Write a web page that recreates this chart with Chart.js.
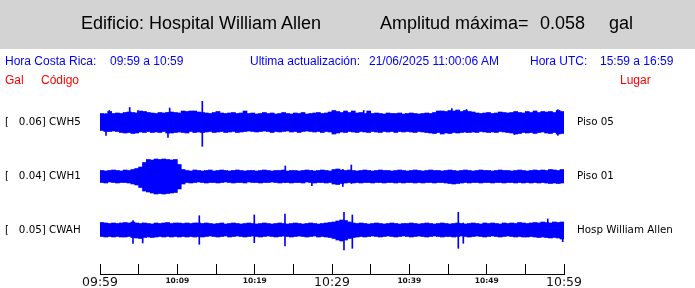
<!DOCTYPE html>
<html>
<head>
<meta charset="utf-8">
<script src="https://cdn.jsdelivr.net/npm/chart.js@4.4.0/dist/chart.umd.min.js"></script>
<style>
  body { margin: 0; background: #fff; }
  #page { position: relative; width: 695px; height: 288px; overflow: hidden; }
  #band { position: absolute; left: 0; top: 0; width: 695px; height: 49px; background: #d3d3d3; }
  #chart { position: absolute; left: 0; top: 0; }
  .t { position: absolute; white-space: pre; font-family: "Liberation Sans", Arial, sans-serif; }
  .big { font-size: 18px; line-height: 18px; top: 14px; color: #000; }
  .blue { font-size: 12px; line-height: 12px; top: 55px; color: #0000ff; }
  .red { font-size: 12px; line-height: 12px; top: 74px; color: #ff0000; }
</style>
</head>
<body>
<div id="page">
  <div id="band"></div>
  <canvas id="chart" width="695" height="288"></canvas>
  <div class="t big" style="left:81px">Edificio: Hospital William Allen</div>
  <div class="t big" style="left:380px">Amplitud máxima=</div>
  <div class="t big" style="left:540px">0.058</div>
  <div class="t big" style="left:609px">gal</div>
  <div class="t blue" style="left:5px">Hora Costa Rica:</div>
  <div class="t blue" style="left:110px">09:59 a 10:59</div>
  <div class="t blue" style="left:250px">Ultima actualización:</div>
  <div class="t blue" style="left:369px">21/06/2025 11:00:06 AM</div>
  <div class="t blue" style="left:530px">Hora UTC:</div>
  <div class="t blue" style="left:600px">15:59 a 16:59</div>
  <div class="t red" style="left:5px">Gal</div>
  <div class="t red" style="left:41px">Código</div>
  <div class="t red" style="left:620px">Lugar</div>
</div>
<script>
// minutes after 09:59, labels every 10 min
const timeLabels = ["09:59", "10:09", "10:19", "10:29", "10:39", "10:49", "10:59"];

const stationCodes = ["[   0.06] CWH5", "[   0.04] CWH1", "[   0.05] CWAH"];
const stationPlaces = ["Piso 05", "Piso 01", "Hosp William Allen"];

// envelope of each trace, one value per 30 s (above / below its baseline)
const cwh5Top = [
  9, 8.5, 11, 9, 9.5, 9, 10, 10.5, 10, 9.5,
  11.5, 11, 10, 9.5, 9, 10, 9.5, 10, 10.5, 10,
  9.5, 11.5, 11, 11.5, 11.5, 10.5, 10, 9.5, 9, 10,
  11, 9.5, 9, 9.5, 10, 9, 9.5, 11.5, 9, 9.5,
  8.5, 9, 10, 9, 9.5, 8.5, 9, 10, 9, 8.5,
  9.5, 9, 10, 8.5, 9, 9.5, 10, 9, 9.5, 10.5,
  12, 11, 10, 11.5, 10, 11.5, 9.5, 10, 9, 11.5,
  9, 9.5, 9, 8.5, 9.5, 9, 9, 9.5, 8.5, 9,
  9.5, 9, 8.5, 9, 9.5, 9, 10, 11.5, 11.5, 11,
  12, 11.5, 12.5, 11, 12, 11, 10.5, 9.5, 9, 9.5,
  10, 9, 9.5, 10.5, 10, 9.5, 10, 11, 10, 9.5,
  11, 10, 11.5, 10, 11, 10.5, 11, 10, 12, 11
];
const cwh5Bottom = [
  8, 9, 9, 8.5, 9, 10, 10.5, 10, 11, 10.5,
  9.5, 10, 9, 10, 9.5, 10, 9, 10.5, 10.5, 10,
  9.5, 10, 10.5, 9, 10, 9.5, 10, 9.5, 9, 10,
  9.5, 9, 10, 9.5, 9, 10, 9.5, 9, 8.5, 9,
  9.5, 9, 8.5, 9, 10, 9, 9.5, 9, 8.5, 9.5,
  9, 10, 9, 8.5, 9, 9.5, 9, 10, 9, 9.5,
  11.5, 10.5, 9.5, 10, 9, 9.5, 10, 9, 9.5, 10,
  9, 9.5, 10, 9, 9.5, 9, 10, 9, 9.5, 9,
  9.5, 10, 9, 9.5, 10, 10.5, 11, 10, 11.5, 10.5,
  11, 10, 10.5, 10, 9.5, 10, 9.5, 10, 9, 9.5,
  10, 9.5, 10, 9, 9.5, 10, 10.5, 11.5, 11, 10,
  10.5, 10, 11, 10, 9.5, 10.5, 11, 10, 11.5, 11
];
const cwh1Top = [
  6, 5.5, 6, 6.5, 6, 5.5, 6.5, 6, 7, 8,
  9.5, 14, 17, 16.5, 17.5, 17, 17.5, 17, 16.5, 17,
  12, 7, 6, 5.5, 6.5, 6, 5.5, 6, 6.5, 5.5,
  6, 6.5, 6, 5.5, 6, 6.5, 6, 5.5, 6, 6,
  5.5, 6, 6.5, 6, 5.5, 6, 6, 6.5, 5.5, 6,
  6, 5.5, 6, 6.5, 6, 5.5, 6, 6.5, 6, 5.5,
  7, 7.5, 6.5, 6, 6.5, 6, 5.5, 6, 6.5, 6,
  5.5, 6, 6.5, 6, 6, 5.5, 6, 6.5, 6, 5.5,
  6, 6.5, 6, 5.5, 6, 6.5, 6, 6, 5.5, 6,
  6.5, 6, 5.5, 6, 6.5, 6, 5.5, 6, 6.5, 6,
  6, 5.5, 6, 6.5, 6, 6, 5.5, 6, 6.5, 6,
  5.5, 6, 6.5, 6, 6.5, 6, 7, 6.5, 6, 7
];
const cwh1Bottom = [
  6, 6.5, 5.5, 6, 6.5, 6, 6, 6.5, 7.5, 8.5,
  11, 14.5, 15.5, 16.5, 17.5, 17, 17.5, 17, 16.5, 16,
  12.5, 7.5, 6, 6.5, 6, 5.5, 6, 6.5, 6, 6,
  6.5, 6, 5.5, 6, 6.5, 6, 6, 6.5, 5.5, 6,
  6, 6.5, 6, 6, 5.5, 6, 6.5, 6, 6, 6.5,
  6, 6, 6.5, 5.5, 6, 6.5, 6, 6, 6.5, 6,
  7.5, 8, 7, 6.5, 6, 6.5, 6, 6.5, 6, 6,
  6.5, 6, 6, 6.5, 6, 6, 6.5, 6, 6.5, 6,
  6, 6.5, 6, 6.5, 6, 6, 6.5, 6, 6, 6.5,
  7, 7.5, 7, 6.5, 6, 6.5, 6, 6, 6.5, 6,
  6, 6.5, 6, 6, 6.5, 6, 6, 6.5, 6, 6.5,
  6, 6.5, 6, 6.5, 6, 6.5, 7, 6.5, 7, 6.5
];
const cwahTop = [
  7.5, 7, 6.5, 7, 6.5, 7, 7.5, 7, 8, 7,
  6.5, 7, 6.5, 6, 7, 6.5, 7, 7.5, 6.5, 7,
  7, 6.5, 7, 6.5, 7, 7, 6.5, 7, 6.5, 6,
  6.5, 7, 6, 6.5, 7, 6.5, 6, 6.5, 7, 6.5,
  6, 6.5, 7, 6.5, 6, 6.5, 7, 6.5, 6, 6.5,
  7, 6.5, 6, 6.5, 7, 6.5, 6, 6.5, 7, 7.5,
  8, 9, 10, 9.5, 8, 7, 6.5, 7, 6.5, 6,
  6.5, 7, 6.5, 6, 6.5, 7, 6.5, 6, 6.5, 6.5,
  7, 6.5, 6, 6.5, 7, 6.5, 6, 6.5, 7, 6.5,
  6, 6.5, 7, 6.5, 6, 6.5, 7, 6.5, 6, 7,
  6.5, 7, 6.5, 6, 7, 6.5, 7, 6.5, 7.5, 7,
  6.5, 7, 7.5, 7, 8, 7.5, 7, 8, 7.5, 8
];
const cwahBottom = [
  6.5, 7, 6.5, 7, 6.5, 7, 7, 6.5, 7.5, 8,
  8.5, 7.5, 7, 7.5, 7, 6.5, 7, 6.5, 7, 6.5,
  7, 6.5, 7, 6.5, 7, 6.5, 7, 6.5, 6, 6.5,
  7, 6.5, 6, 7, 6.5, 6, 6.5, 7, 6.5, 6,
  6.5, 7, 6.5, 6, 6.5, 7, 6.5, 6, 6.5, 7,
  6.5, 6, 6.5, 7, 6.5, 6, 7, 6.5, 7, 7.5,
  8.5, 10, 11, 10, 8.5, 7.5, 7, 6.5, 7, 6.5,
  6, 6.5, 7, 6.5, 6, 6.5, 7, 6.5, 6, 6.5,
  7, 6.5, 6, 6.5, 7, 6.5, 6, 6.5, 7, 6.5,
  6.5, 7, 6.5, 6, 6.5, 7, 6.5, 6, 6.5, 7,
  6.5, 6, 6.5, 7, 6.5, 6, 6.5, 7, 6.5, 7,
  7, 6.5, 7, 7.5, 7, 7.5, 8, 7.5, 8, 9
];

// single peaks: [minute, up, down]
const cwh5Peaks = [
  [13.23, 21.2, 23.8], [0.78, 9, 12.8], [3.84, 15, 9], [9.01, 14.5, 10],
  [8.79, 10, 14.8], [1.2, 12, 8], [4.9, 12, 9], [34.1, 12, 9],
  [45.5, 14, 10], [47.4, 13, 10], [59.2, 12.8, 12.8], [53.6, 10, 12]
];
const cwh1Peaks = [[23.96, 10.5, 6], [27.4, 6, 9.2], [31.4, 7, 10], [32.5, 11.5, 7]];
const cwahPeaks = [
  [4.27, 9.3, 13.3], [5.52, 7, 13], [12.84, 14.3, 14.3], [19.95, 15, 12.7],
  [23.92, 16, 16], [31.55, 17.7, 20], [32.63, 15, 18.3], [46.33, 17.7, 18.3],
  [46.98, 7, 13.3], [57.9, 11, 7], [59.83, 7, 11.7]
];

// baseline of each trace on the vertical scale
const baselines = [151.5, 97.5, 44];
const binMinutes = 0.5;
const traceColor = "#0000ff";

function bodySet(top, bottom, base) {
  return {
    data: top.map((t, i) => ({ x: (i + 0.5) * binMinutes, y: [base - bottom[i], base + t] })),
    backgroundColor: traceColor,
    borderWidth: 0,
    barThickness: 4,
    grouped: false
  };
}
function peakSet(peaks, base) {
  return {
    data: peaks.map(p => ({ x: p[0], y: [base - p[2], base + p[1]] })),
    backgroundColor: traceColor,
    borderWidth: 0,
    barThickness: 1,
    grouped: false
  };
}

const datasets = [
  bodySet(cwh5Top, cwh5Bottom, baselines[0]),
  bodySet(cwh1Top, cwh1Bottom, baselines[1]),
  bodySet(cwahTop, cwahBottom, baselines[2]),
  peakSet(cwh5Peaks, baselines[0]),
  peakSet(cwh1Peaks, baselines[1]),
  peakSet(cwahPeaks, baselines[2])
];

const labelFont = { family: "DejaVu Sans", size: 10.3 };
function stationTicks(scale) {
  scale.ticks = baselines.map(v => ({ value: v }));
}
// side labels sit mid-area, so they need no room above or below
function sideFit(width) {
  return s => { s.width = width; s.paddingTop = 0; s.paddingBottom = 0; };
}

new Chart(document.getElementById("chart"), {
  type: "bar",
  data: { datasets: datasets },
  options: {
    responsive: false,
    animation: false,
    devicePixelRatio: 1,
    layout: { padding: { top: 95, left: 5, right: 0, bottom: 0 } },
    plugins: { legend: { display: false }, tooltip: { enabled: false } },
    scales: {
      x: {
        type: "linear",
        min: 0,
        max: 60,
        offset: false,
        grid: { offset: false, drawOnChartArea: false, tickLength: -10, color: "#000", tickWidth: 1 },
        border: { display: true, color: "#000", width: 1 },
        ticks: {
          stepSize: 5,
          autoSkip: false,
          maxRotation: 0,
          padding: 11,
          color: "#111",
          callback: v => (v % 10 === 0 ? timeLabels[v / 10] : ""),
          font: ctx => (ctx.tick && ctx.tick.value % 30 === 0)
            ? { family: "DejaVu Sans", size: 12.5 }
            : { family: "DejaVu Sans", size: 7.5, weight: "bold", lineHeight: 1.7 }
        },
        afterFit: s => { s.height = 14; }
      },
      y: {
        position: "left",
        min: 0,
        max: 179,
        grid: { display: false, drawTicks: false },
        border: { display: false },
        afterBuildTicks: stationTicks,
        ticks: { crossAlign: "far", padding: 0, color: "#000", font: labelFont,
                 callback: (v, i) => stationCodes[i] },
        afterFit: sideFit(95)
      },
      y2: {
        position: "right",
        min: 0,
        max: 179,
        grid: { display: false, drawTicks: false },
        border: { display: false },
        afterBuildTicks: stationTicks,
        ticks: { padding: 13, color: "#000", font: labelFont,
                 callback: (v, i) => stationPlaces[i] },
        afterFit: sideFit(131)
      }
    }
  }
});
</script>
</body>
</html>
